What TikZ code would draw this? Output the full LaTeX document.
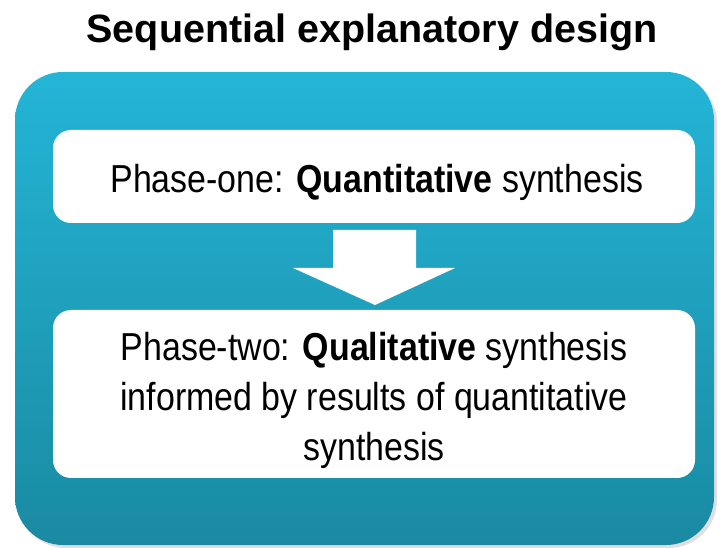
\documentclass[tikz,border=0pt]{standalone}
\usepackage{fontspec}
\setmainfont{Liberation Sans}
\newfontfamily\bodyfont[FakeStretch=0.87]{Liberation Sans}
\usetikzlibrary{shadows}
\definecolor{frametop}{RGB}{36,181,214}
\definecolor{framebot}{RGB}{26,138,162}

\begin{document}
\begin{tikzpicture}[x=1pt,y=-1pt,
  outerbox/.style={rounded corners=48pt,top color=frametop,bottom color=framebot,
    minimum width=699pt,minimum height=473pt,
    drop shadow={shadow xshift=3pt,shadow yshift=-3pt,opacity=0.25}},
  panel/.style={fill=white,rounded corners=18pt,minimum width=642pt},
  phasetext/.style={font=\bodyfont\fontsize{39}{50}\selectfont,align=center,inner sep=0pt}]
 \useasboundingbox (0,0) rectangle (724,548);

 \node[font=\bfseries\fontsize{39.5}{46}\selectfont,anchor=base] (title) at (372,43) {Sequential explanatory design};

 \node[outerbox] (frame) at (364.5,308.5) {};
 \node[panel,minimum height=93pt] (boxone) at (374,176.5) {};
 \node[panel,minimum height=168pt] (boxtwo) at (374,394) {};

 % arrow between the two phases
 \fill[white] (333,230) -- ++(83,0) -- ++(0,38) -- ++(39,0) -- ++(-80,37) -- ++(-82,-37) -- ++(40,0) -- cycle;

 \node[phasetext,anchor=base] (one) at (377,193) {Phase-one: \textbf{Quantitative} synthesis};
 \node[phasetext] (two) at (374,400) {Phase-two: \textbf{Qualitative} synthesis\\informed by results of quantitative\\synthesis};
\end{tikzpicture}
\end{document}
